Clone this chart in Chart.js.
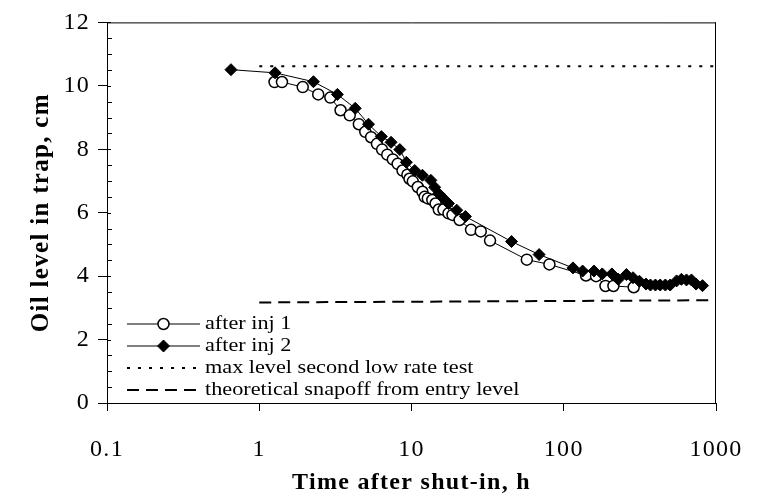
<!DOCTYPE html>
<html><head><meta charset="utf-8">
<script src="https://cdn.jsdelivr.net/npm/chart.js@4"></script>
<style>html,body{margin:0;padding:0;background:#fff;}#wrap{width:764px;height:498px;}</style>
</head><body><div id="wrap"><canvas id="c" width="764" height="498"></canvas></div>
<script>
const inj1Time = [1.26, 1.41, 1.93, 2.44, 2.93, 3.42, 3.93, 4.51, 4.97, 5.43, 5.93, 6.41, 6.93, 7.54, 8.11, 8.73, 9.4, 9.7, 10.2, 11.0, 11.8, 12.2, 12.8, 13.7, 14.4, 15.1, 16.2, 17.5, 18.6, 20.7, 24.6, 28.5, 32.8, 57.2, 80.5, 140, 163, 188, 212, 288];
const inj1Level = [10.12, 10.12, 9.96, 9.73, 9.63, 9.23, 9.07, 8.79, 8.55, 8.38, 8.17, 7.99, 7.83, 7.68, 7.54, 7.33, 7.20, 7.07, 6.99, 6.81, 6.66, 6.50, 6.45, 6.40, 6.29, 6.10, 6.10, 5.98, 5.93, 5.77, 5.46, 5.41, 5.12, 4.52, 4.37, 4.02, 4.00, 3.69, 3.69, 3.65];
const inj2Time = [0.652, 1.27, 2.27, 3.26, 4.27, 5.22, 6.34, 7.34, 8.38, 9.25, 10.5, 11.8, 13.4, 14.2, 15.1, 16.2, 17.5, 19.8, 22.6, 45.4, 68.9, 115, 133, 158, 179, 207, 228, 258, 285, 314, 347, 371, 400, 430, 465, 500, 551, 593, 640, 690, 739, 815];
const inj2Level = [10.51, 10.41, 10.13, 9.73, 9.29, 8.79, 8.40, 8.22, 7.99, 7.59, 7.33, 7.18, 7.02, 6.80, 6.60, 6.45, 6.29, 6.08, 5.88, 5.09, 4.68, 4.26, 4.16, 4.16, 4.07, 4.07, 3.90, 4.05, 3.95, 3.84, 3.75, 3.72, 3.72, 3.72, 3.72, 3.72, 3.85, 3.90, 3.88, 3.88, 3.75, 3.70];
const maxLevelTime = [1, 1000];
const maxLevelValue = [10.62, 10.62];
const snapoffTime = [1, 1000];
const snapoffValue = [3.17, 3.24];
const xTickValues = [0.1, 1, 10, 100, 1000];
const yTickStep = 2;
const yMinorStep = 0.5;
const seriesNames = ['after inj 1', 'after inj 2', 'max level second low rate test', 'theoretical snapoff from entry level'];
const xTitle = 'Time after shut-in, h';
const yTitle = 'Oil level in trap, cm';

const pts = (xs, ys) => xs.map((x, i) => ({x: x, y: ys[i]}));
const SERIF = "'Liberation Serif', 'Times New Roman', serif";

const frameAndLegend = {
  id: 'frameAndLegend',
  beforeDraw(chart) { chart.ctx.letterSpacing = '1.3px'; },
  afterDraw(chart) {
    const ctx = chart.ctx;
    const a = chart.chartArea;
    const ys = chart.scales.y;
    ctx.save();
    ctx.letterSpacing = '0px';
    ctx.strokeStyle = '#000';
    ctx.lineWidth = 1;
    ctx.beginPath();
    ctx.moveTo(a.left, a.top + 0.5); ctx.lineTo(a.right, a.top + 0.5);
    ctx.moveTo(a.right - 0.5, a.top); ctx.lineTo(a.right - 0.5, a.bottom);
    for (let v = ys.min; v <= ys.max + 1e-9; v += yMinorStep) {
      const py = Math.round(ys.getPixelForValue(v)) + 0.5;
      const major = Math.abs(v / yTickStep - Math.round(v / yTickStep)) < 1e-9;
      ctx.moveTo(a.left, py); ctx.lineTo(a.left + (major ? 4 : 5), py);
    }
    ctx.stroke();
    // legend
    const rowY = [324, 346, 368, 390];
    const x0 = 127, x1 = 200, tx = 205;
    chart.data.datasets.forEach((ds, i) => {
      const y = rowY[i];
      ctx.save();
      ctx.strokeStyle = ds.borderColor;
      ctx.lineWidth = ds.borderWidth;
      ctx.setLineDash(ds.borderDash || []);
      ctx.beginPath(); ctx.moveTo(x0, y); ctx.lineTo(x1, y); ctx.stroke();
      ctx.setLineDash([]);
      if (ds.pointRadius > 0) {
        const r = ds.pointRadius, cx = (x0 + x1) / 2;
        ctx.fillStyle = ds.pointBackgroundColor;
        ctx.strokeStyle = ds.pointBorderColor;
        ctx.lineWidth = ds.pointBorderWidth;
        ctx.beginPath();
        if (ds.pointStyle === 'circle') { ctx.arc(cx, y, r, 0, Math.PI * 2); }
        else { ctx.moveTo(cx - r, y); ctx.lineTo(cx, y - r); ctx.lineTo(cx + r, y); ctx.lineTo(cx, y + r); ctx.closePath(); }
        ctx.fill(); ctx.stroke();
      }
      ctx.fillStyle = '#000';
      ctx.font = '19px ' + SERIF;
      ctx.textBaseline = 'middle';
      ctx.textAlign = 'left';
      ctx.translate(tx, y);
      ctx.scale(1.17, 1);
      ctx.fillText(ds.label, 0, 0);
      ctx.restore();
    });
    ctx.restore();
  }
};

new Chart(document.getElementById('c'), {
  type: 'scatter',
  data: {
    datasets: [
      {label: seriesNames[0], data: pts(inj1Time, inj1Level), showLine: true, borderColor: '#000', borderWidth: 1,
       pointStyle: 'circle', pointRadius: 5.5, pointBorderWidth: 1.5, pointBackgroundColor: '#fff', pointBorderColor: '#000', order: 1},
      {label: seriesNames[1], data: pts(inj2Time, inj2Level), showLine: true, borderColor: '#000', borderWidth: 1,
       pointStyle: 'rectRot', pointRadius: 6, pointBorderWidth: 1, pointBackgroundColor: '#000', pointBorderColor: '#000', order: 0},
      {label: seriesNames[2], data: pts(maxLevelTime, maxLevelValue), showLine: true, borderColor: '#000', borderWidth: 2,
       borderDash: [3, 8], pointRadius: 0, order: 2},
      {label: seriesNames[3], data: pts(snapoffTime, snapoffValue), showLine: true, borderColor: '#000', borderWidth: 2,
       borderDash: [12, 7], pointRadius: 0, order: 2}
    ]
  },
  options: {
    responsive: false, animation: false, devicePixelRatio: 1,
    layout: {padding: {left: 0, right: 30, top: 19, bottom: 0}},
    plugins: {legend: {display: false}, tooltip: {enabled: false}},
    scales: {
      x: {
        type: 'logarithmic', position: 'bottom', min: 0.1, max: 1000,
        afterBuildTicks: s => { s.ticks = xTickValues.map(v => ({value: v})); },
        afterFit: s => { s.height = 95; },
        ticks: {callback: v => String(v), color: '#000', font: {family: SERIF, size: 24, lineHeight: 1.2}, padding: 24, maxRotation: 0, autoSkip: false},
        grid: {display: true, drawOnChartArea: false, drawTicks: true, tickLength: 8, color: '#000', lineWidth: 1},
        border: {display: true, color: '#000', width: 1},
        title: {display: true, text: xTitle, color: '#000', font: {family: SERIF, size: 24, weight: 'bold', lineHeight: 1}, padding: {top: 0, bottom: 3}}
      },
      y: {
        type: 'linear', position: 'left', min: 0, max: 12,
        afterFit: s => { s.width = 107; },
        ticks: {stepSize: yTickStep, color: '#000', font: {family: SERIF, size: 24}, padding: 8},
        grid: {display: true, drawOnChartArea: false, drawTicks: true, tickLength: 9, color: '#000', lineWidth: 1},
        border: {display: true, color: '#000', width: 1},
        title: {display: true, text: yTitle, color: '#000', font: {family: SERIF, size: 25, weight: 'bold', lineHeight: 1}, padding: {top: 29, bottom: 0}}
      }
    }
  },
  plugins: [frameAndLegend]
});
</script></body></html>
